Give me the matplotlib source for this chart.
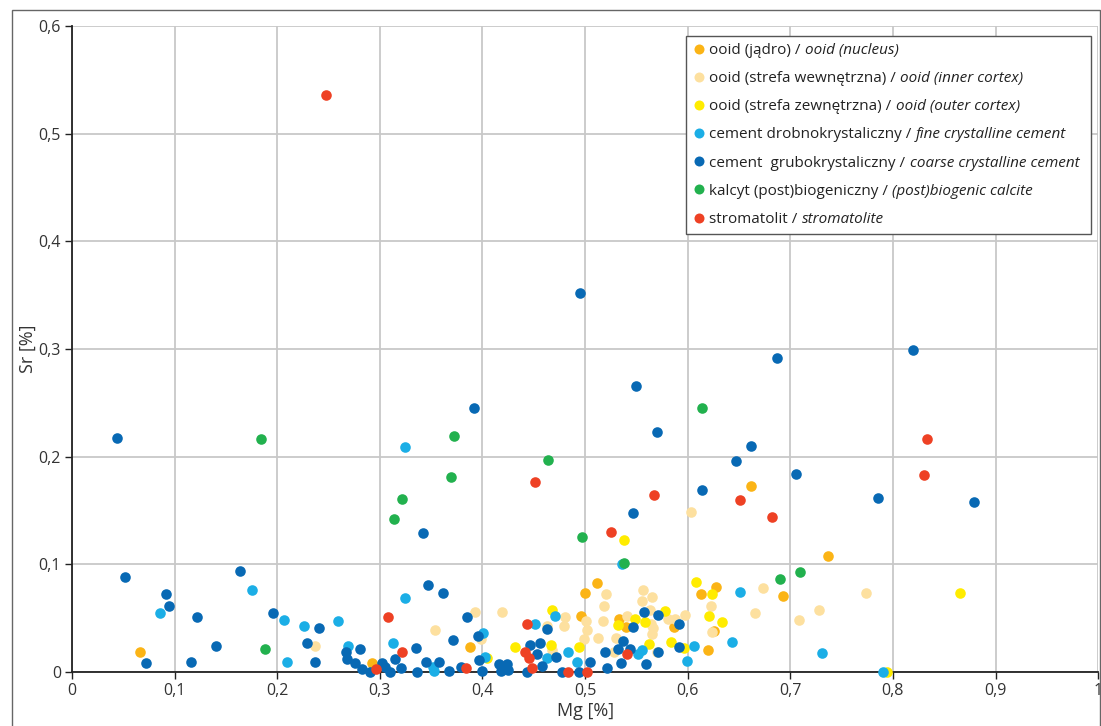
import matplotlib
matplotlib.use("Agg")
import matplotlib.pyplot as plt
from matplotlib.lines import Line2D
from matplotlib.patches import Rectangle
from matplotlib.ticker import FixedLocator, FixedFormatter

plt.rcParams["font.family"] = ["Open Sans", "DejaVu Sans"]

# ---------------------------------------------------------------------------
# Data (Mg [%], Sr [%])
# ---------------------------------------------------------------------------

nucleus_mg = [0.066, 0.292, 0.388, 0.496, 0.500, 0.512, 0.533, 0.540, 0.587, 0.613,
              0.628, 0.626, 0.620, 0.693, 0.737, 0.662]
nucleus_sr = [0.019, 0.008, 0.023, 0.052, 0.073, 0.083, 0.049, 0.042, 0.042, 0.072,
              0.079, 0.038, 0.020, 0.071, 0.108, 0.173]

inner_mg = [0.237, 0.354, 0.393, 0.399, 0.419, 0.420, 0.468, 0.480, 0.479, 0.463,
            0.501, 0.502, 0.499, 0.520, 0.518, 0.517, 0.513, 0.530, 0.528, 0.541,
            0.556, 0.555, 0.565, 0.563, 0.564, 0.566, 0.565, 0.570, 0.581, 0.588,
            0.597, 0.623, 0.624, 0.603, 0.673, 0.666, 0.708, 0.728, 0.774]
inner_sr = [0.024, 0.039, 0.056, 0.031, 0.056, 0.006, 0.020, 0.051, 0.043, 0.043,
            0.047, 0.039, 0.031, 0.072, 0.061, 0.047, 0.032, 0.032, 0.019, 0.052,
            0.076, 0.066, 0.070, 0.058, 0.045, 0.041, 0.035, 0.019, 0.049, 0.049,
            0.053, 0.061, 0.037, 0.149, 0.078, 0.055, 0.048, 0.058, 0.073]

outer_mg = [0.404, 0.432, 0.468, 0.467, 0.494, 0.538, 0.532, 0.549, 0.558, 0.578,
            0.562, 0.584, 0.596, 0.608, 0.624, 0.621, 0.633, 0.794, 0.865]
outer_sr = [0.013, 0.023, 0.058, 0.025, 0.023, 0.123, 0.044, 0.049, 0.046, 0.057,
            0.026, 0.028, 0.022, 0.084, 0.072, 0.052, 0.046, 0.000, 0.073]

fine_mg = [0.086, 0.175, 0.207, 0.226, 0.259, 0.210, 0.269, 0.313, 0.325, 0.325,
           0.352, 0.353, 0.401, 0.402, 0.451, 0.463, 0.471, 0.483, 0.492, 0.536,
           0.552, 0.555, 0.599, 0.606, 0.651, 0.643, 0.731, 0.790]
fine_sr = [0.055, 0.076, 0.048, 0.043, 0.047, 0.009, 0.024, 0.027, 0.069, 0.209,
           0.005, 0.001, 0.036, 0.014, 0.045, 0.013, 0.052, 0.019, 0.009, 0.100,
           0.017, 0.020, 0.010, 0.024, 0.074, 0.028, 0.018, 0.000]

coarse_mg = [0.044, 0.052, 0.072, 0.092, 0.095, 0.116, 0.122, 0.140, 0.164, 0.196,
             0.229, 0.241, 0.237, 0.267, 0.268, 0.281, 0.276, 0.283, 0.290, 0.302,
             0.305, 0.310, 0.315, 0.321, 0.335, 0.336, 0.347, 0.362, 0.342, 0.345,
             0.358, 0.367, 0.371, 0.379, 0.385, 0.396, 0.397, 0.400, 0.392, 0.416,
             0.424, 0.418, 0.425, 0.420, 0.446, 0.443, 0.453, 0.456, 0.463, 0.458,
             0.472, 0.478, 0.494, 0.505, 0.519, 0.521, 0.495, 0.557, 0.571, 0.547,
             0.537, 0.532, 0.544, 0.535, 0.559, 0.571, 0.592, 0.592, 0.550, 0.570,
             0.547, 0.614, 0.662, 0.647, 0.706, 0.687, 0.820, 0.785, 0.879]
coarse_sr = [0.217, 0.088, 0.008, 0.072, 0.061, 0.009, 0.051, 0.024, 0.094, 0.055,
             0.027, 0.041, 0.009, 0.019, 0.012, 0.021, 0.008, 0.003, 0.000, 0.008,
             0.005, 0.000, 0.012, 0.004, 0.022, 0.000, 0.081, 0.073, 0.129, 0.009,
             0.009, 0.001, 0.030, 0.005, 0.051, 0.033, 0.011, 0.001, 0.245, 0.007,
             0.007, 0.001, 0.002, 0.004, 0.025, 0.000, 0.017, 0.027, 0.040, 0.006,
             0.014, 0.000, 0.000, 0.009, 0.019, 0.004, 0.352, 0.056, 0.053, 0.042,
             0.029, 0.021, 0.021, 0.008, 0.007, 0.019, 0.045, 0.023, 0.266, 0.223,
             0.148, 0.169, 0.210, 0.196, 0.184, 0.292, 0.299, 0.162, 0.158]

biogenic_mg = [0.184, 0.188, 0.314, 0.322, 0.369, 0.372, 0.464, 0.497, 0.538, 0.614,
               0.690, 0.709]
biogenic_sr = [0.216, 0.021, 0.142, 0.161, 0.181, 0.219, 0.197, 0.125, 0.101, 0.245,
               0.086, 0.093]

stromatolite_mg = [0.248, 0.296, 0.308, 0.322, 0.384, 0.443, 0.441, 0.445, 0.448, 0.451,
                   0.483, 0.502, 0.525, 0.567, 0.541, 0.651, 0.682, 0.833, 0.830]
stromatolite_sr = [0.536, 0.003, 0.051, 0.019, 0.004, 0.045, 0.019, 0.013, 0.004, 0.176,
                   0.000, 0.000, 0.130, 0.164, 0.017, 0.160, 0.144, 0.216, 0.183]

series = [
    ("ooid (jądro) / ", "ooid (nucleus)", "#FBB416", nucleus_mg, nucleus_sr),
    ("ooid (strefa wewnętrzna) / ", "ooid (inner cortex)", "#FDE09F", inner_mg, inner_sr),
    ("ooid (strefa zewnętrzna) / ", "ooid (outer cortex)", "#FFEC00", outer_mg, outer_sr),
    ("cement drobnokrystaliczny / ", "fine crystalline cement", "#1BAEE6", fine_mg, fine_sr),
    ("cement  grubokrystaliczny / ", "coarse crystalline cement", "#0869B4", coarse_mg, coarse_sr),
    ("kalcyt (post)biogeniczny / ", "(post)biogenic calcite", "#22B14E", biogenic_mg, biogenic_sr),
    ("stromatolit / ", "stromatolite", "#EE4124", stromatolite_mg, stromatolite_sr),
]

x_ticks = [0, 0.1, 0.2, 0.3, 0.4, 0.5, 0.6, 0.7, 0.8, 0.9, 1.0]
x_tick_labels = ["0", "0,1", "0,2", "0,3", "0,4", "0,5", "0,6", "0,7", "0,8", "0,9", "1"]
y_ticks = [0, 0.1, 0.2, 0.3, 0.4, 0.5, 0.6]
y_tick_labels = ["0", "0,1", "0,2", "0,3", "0,4", "0,5", "0,6"]

# ---------------------------------------------------------------------------
# Figure
# ---------------------------------------------------------------------------

fig = plt.figure(figsize=(11.01, 7.26), dpi=100)
ax = fig.add_axes([0.0654, 0.0744, 0.9320, 0.8898])

for _, _, color, mg, sr in series:
    ax.scatter(mg, sr, s=58, color=color, linewidths=0, zorder=3, clip_on=False)

ax.set_xlim(0, 1)
ax.set_ylim(0, 0.6)
ax.xaxis.set_major_locator(FixedLocator(x_ticks))
ax.xaxis.set_major_formatter(FixedFormatter(x_tick_labels))
ax.yaxis.set_major_locator(FixedLocator(y_ticks))
ax.yaxis.set_major_formatter(FixedFormatter(y_tick_labels))
ax.grid(True, color="#c8c8c8", linewidth=1.3, zorder=0)
ax.set_axisbelow(True)
ax.tick_params(direction="out", length=5, width=1, color="#222222",
               labelsize=11.5, labelcolor="#333333", pad=3)

for side in ("top", "right"):
    ax.spines[side].set_visible(False)
for side in ("left", "bottom"):
    ax.spines[side].set_color("#222222")
    ax.spines[side].set_linewidth(1.3)

ax.set_xlabel("Mg [%]", fontsize=13, color="#333333")
ax.set_ylabel("Sr [%]", fontsize=13, color="#333333")
ax.xaxis.set_label_coords(0.5, -0.046)
ax.xaxis.label.set_va("top")
ax.yaxis.set_label_coords(-0.034, 0.5)

# legend: regular Polish part in the legend, italic English part appended
handles = [Line2D([], [], marker="o", linestyle="none", markersize=7.2,
                  markerfacecolor=c, markeredgewidth=0) for _, _, c, _, _ in series]
leg = ax.legend(handles, [s[0] for s in series], loc="upper left",
                bbox_to_anchor=(0.598, 0.60, 0.395, 0.3845), mode="expand",
                borderaxespad=0, fancybox=False, framealpha=1,
                edgecolor="#555555", fontsize=11.0, labelspacing=0.86,
                handlelength=0.78, handletextpad=0.32, borderpad=0.46)
leg.get_frame().set_linewidth(1.0)
for t, s in zip(leg.get_texts(), series):
    t.set_color("#222222")
    ax.annotate(s[1], xy=(1, 0), xycoords=t, ha="left", va="bottom",
                fontsize=11.0, style="italic", color="#222222", zorder=6)

# outer frame around the whole graphic
fig.patches.append(Rectangle((12 / 1101, -0.01), 1088 / 1101, 0.996,
                             transform=fig.transFigure, fill=False,
                             edgecolor="#666666", linewidth=1.0))

fig.savefig("out.png", dpi=100)
